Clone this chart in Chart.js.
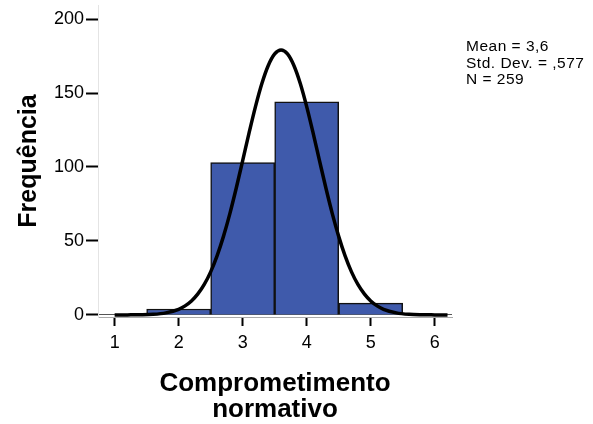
<!DOCTYPE html>
<html lang="pt">
<head>
    <meta charset="UTF-8">
    <title>Comprometimento normativo</title>
    <script src="https://cdn.jsdelivr.net/npm/chart.js"></script>
    <style>
        html, body { margin: 0; padding: 0; background: #fff; }
        #wrap { width: 593px; height: 424px; }
    </style>
</head>
<body>
    <div id="wrap"><canvas id="myChart"></canvas></div>
    <script>
        // histogram bins and counts
        const binCenters = [1, 2, 3, 4, 5, 6];
        const counts = [0, 4, 103, 144, 8, 0];

        // normal curve
        const curveX = [1.0, 1.2, 1.4, 1.6, 1.8, 2.0, 2.1, 2.2, 2.3, 2.4, 2.5, 2.6, 2.7, 2.8, 2.9, 3.0, 3.1, 3.2, 3.3, 3.4, 3.5, 3.6,
                        3.7, 3.8, 3.9, 4.0, 4.1, 4.2, 4.3, 4.4, 4.5, 4.6, 4.7, 4.8, 4.9, 5.0, 5.1, 5.2, 5.4, 5.6, 5.8, 6.0, 6.2];
        const curveY = [0.0, 0.03, 0.1, 0.4, 1.4, 3.8, 6.1, 9.4, 14.2, 20.6, 29.1, 39.9, 53.1, 68.5, 85.8, 104.3, 123.0, 140.8, 156.4, 168.6, 176.4, 179.1,
                        176.4, 168.6, 156.4, 140.8, 123.0, 104.3, 85.8, 68.5, 53.1, 39.9, 29.1, 20.6, 14.2, 9.4, 6.1, 3.8, 1.4, 0.4, 0.1, 0.03, 0.0];

        const xTicks = [1, 2, 3, 4, 5, 6];
        const yTicks = [0, 50, 100, 150, 200];
        const stats = ['Mean = 3,6', 'Std. Dev. = ,577', 'N = 259'];

        const fontFamily = '"Liberation Sans", Arial, sans-serif';

        const statsBox = {
            id: 'statsBox',
            afterDraw(chart) {
                const c = chart.ctx;
                c.save();
                c.fillStyle = '#000';
                c.font = '15.5px ' + fontFamily;
                c.letterSpacing = '0.5px';
                c.textBaseline = 'middle';
                stats.forEach((s, i) => c.fillText(s, 466, 47 + i * 16.5));
                c.restore();
            }
        };

        const ctx = document.getElementById('myChart').getContext('2d');
        const myChart = new Chart(ctx, {
            data: {
                datasets: [
                    {
                        type: 'line',
                        data: curveX.map((x, i) => ({ x: x, y: curveY[i] })),
                        borderColor: '#000',
                        borderWidth: 3.5,
                        pointRadius: 0,
                        cubicInterpolationMode: 'monotone',
                        order: 0
                    },
                    {
                        type: 'bar',
                        data: binCenters.map((x, i) => ({ x: x, y: counts[i] })),
                        backgroundColor: '#3f5aab',
                        borderColor: '#111',
                        borderWidth: 1.5,
                        borderSkipped: 'bottom',
                        barPercentage: 1,
                        categoryPercentage: 1,
                        order: 1
                    }
                ]
            },
            options: {
                responsive: true,
                maintainAspectRatio: false,
                animation: false,
                layout: { padding: { top: 5, right: 141, left: 0, bottom: 0 } },
                plugins: {
                    legend: { display: false },
                    tooltip: { enabled: false }
                },
                scales: {
                    x: {
                        type: 'linear',
                        offset: false,
                        min: 0.74,
                        max: 6.27,
                        afterBuildTicks: s => { s.ticks = xTicks.map(v => ({ value: v })); },
                        afterFit: s => { s.height = 107; s.paddingLeft = 0; s.paddingRight = 0; },
                        grid: {
                            offset: false,
                            drawOnChartArea: false,
                            tickLength: 9,
                            tickColor: '#000',
                            tickWidth: 2
                        },
                        border: { color: '#aaa', width: 1 },
                        ticks: {
                            color: '#000',
                            padding: 6,
                            font: { family: fontFamily, size: 18 }
                        },
                        title: {
                            display: true,
                            text: ['Comprometimento', 'normativo'],
                            color: '#000',
                            padding: { top: 0, bottom: 1 },
                            font: { family: fontFamily, size: 26, weight: 'bold', lineHeight: 1.0 }
                        }
                    },
                    y: {
                        min: -1.4,
                        max: 209.5,
                        afterBuildTicks: s => { s.ticks = yTicks.map(v => ({ value: v })); },
                        afterFit: s => { s.width = 98; s.paddingTop = 0; s.paddingBottom = 0; },
                        grid: {
                            color: c => (c.tick && c.tick.value === 0) ? '#555' : 'rgba(0,0,0,0)',
                            lineWidth: 1,
                            tickLength: 12,
                            tickColor: '#000',
                            tickWidth: 2
                        },
                        border: { color: '#e4e4e4', width: 1 },
                        ticks: {
                            color: '#000',
                            padding: 2,
                            font: { family: fontFamily, size: 18 }
                        },
                        title: {
                            display: true,
                            text: 'Frequência',
                            color: '#000',
                            padding: { top: 14, bottom: 0 },
                            font: { family: fontFamily, size: 25, weight: 'bold' }
                        }
                    }
                }
            },
            plugins: [statsBox]
        });
    </script>
</body>
</html>
